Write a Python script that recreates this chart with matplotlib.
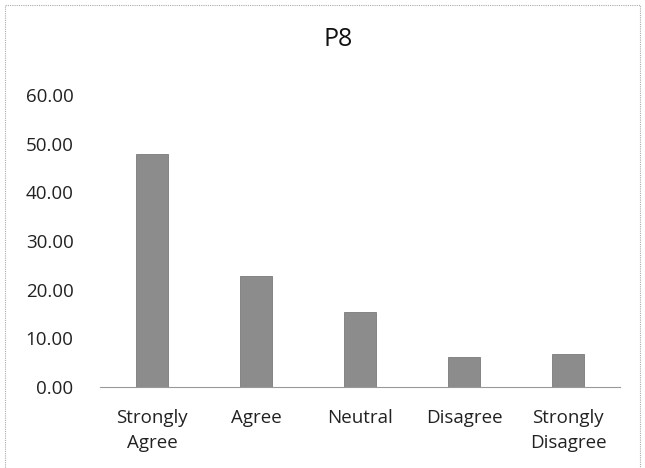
import numpy as np
import matplotlib.pyplot as plt
from matplotlib.patches import Rectangle

# categories and percentages
categories = ['Strongly\nAgree', 'Agree', 'Neutral', 'Disagree', 'Strongly\nDisagree']
values = [47.8, 22.9, 15.5, 6.2, 6.7]
yticks = [0, 10, 20, 30, 40, 50, 60]

plt.rcParams['font.family'] = ['Open Sans', 'DejaVu Sans']

fig = plt.figure(figsize=(6.45, 4.68), dpi=100)
ax = fig.add_axes([100/645, 1 - 387/468, 520/645, 292/468])

x = np.arange(len(categories))
ax.bar(x, values, width=0.31, color='#8c8c8c', edgecolor='#7a7a7a', linewidth=0.6, zorder=2)

ax.set_xlim(-0.5, len(categories) - 0.5)
ax.set_ylim(0, 60)
ax.set_yticks(yticks)
ax.set_yticklabels(['%.2f' % v for v in yticks], fontsize=13.5, color='#222222')
ax.set_xticks(x)
ax.set_xticklabels(categories, fontsize=13.5, color='#222222', linespacing=1.45)
ax.tick_params(axis='both', length=0)
ax.tick_params(axis='y', pad=19)
ax.tick_params(axis='x', pad=16)

for s in ['top', 'right', 'left']:
    ax.spines[s].set_visible(False)
ax.spines['bottom'].set_color('#999999')
ax.spines['bottom'].set_linestyle((0, (1, 1)))
ax.spines['bottom'].set_linewidth(0.8)

fig.text(338/645, 1 - 40/468, 'P8', fontsize=18, ha='center', va='center', color='#111111')

# chart border
fig.patches.append(Rectangle((5/645, -0.01), 635/645, 1 - 5/468 + 0.01,
                             transform=fig.transFigure, fill=False,
                             edgecolor='#aaaaaa', linestyle=(0, (1, 1)), linewidth=0.8))

fig.savefig('out.png', dpi=100)
